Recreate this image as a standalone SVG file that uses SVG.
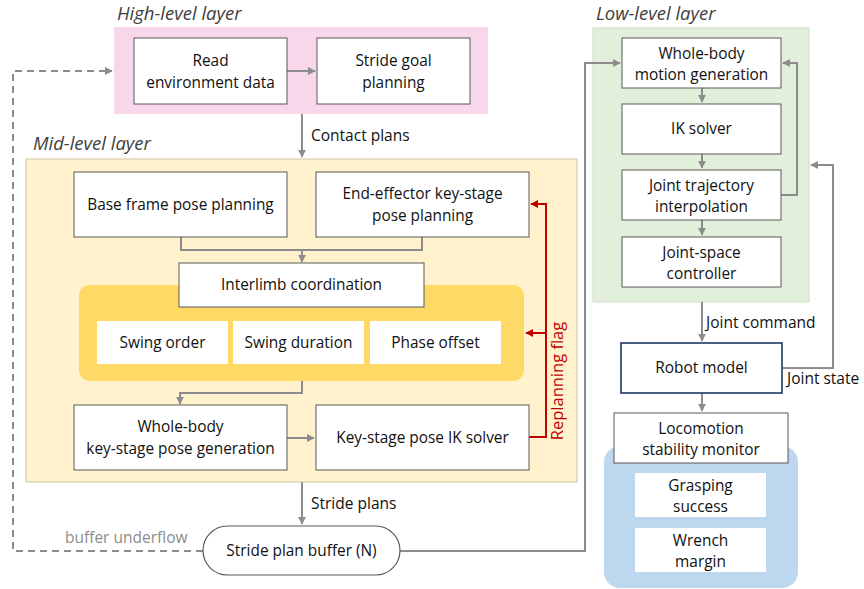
<svg xmlns="http://www.w3.org/2000/svg" width="864" height="589" viewBox="0 0 864 589">
  <defs>
    <marker id="ag" viewBox="0 0 10 10" refX="9" refY="5" markerWidth="4" markerHeight="4" orient="auto-start-reverse" markerUnits="strokeWidth">
      <path d="M0,0 L10,5 L0,10 z" fill="#8c8c8c"/>
    </marker>
    <marker id="ar" viewBox="0 0 10 10" refX="9" refY="5" markerWidth="4" markerHeight="4" orient="auto-start-reverse" markerUnits="strokeWidth">
      <path d="M0,0 L10,5 L0,10 z" fill="#c00000"/>
    </marker>
    <style>
      text { font-family: "Open Sans", "Noto Sans", sans-serif; font-size: 15.4px; fill: #111111; }
      .title { font-style: italic; font-size: 18.5px; fill: #404040; }
      .box { fill: #ffffff; stroke: #595959; stroke-width: 1; }
      .plain { fill: #ffffff; stroke: none; }
      .c { text-anchor: middle; }
      .conn { fill: none; stroke: #8c8c8c; stroke-width: 2; }
      .dash { fill: none; stroke: #8c8c8c; stroke-width: 2; stroke-dasharray: 7 5; }
      .red { fill: none; stroke: #c00000; stroke-width: 2; }
      .lbl { font-size: 15.5px; }
    </style>
  </defs>

  <!-- layer panels -->
  <g id="high-layer">
    <rect x="114" y="27" width="374" height="87" fill="#f8d7ea"/>
    <text class="title" x="117" y="20">High-level layer</text>
  </g>
  <g id="mid-layer">
    <rect x="26" y="159" width="551" height="323" fill="#fff2cc" stroke="#d0c4a4" stroke-width="1"/>
    <text class="title" x="33" y="150">Mid-level layer</text>
    <rect x="79" y="285" width="445" height="96" rx="11" fill="#ffd966"/>
  </g>
  <g id="low-layer">
    <rect x="593" y="28" width="216" height="274" fill="#e2efda" stroke="#cfdcc6" stroke-width="1"/>
    <text class="title" x="596" y="20">Low-level layer</text>
  </g>
  <g id="monitor-panel">
    <rect x="604" y="446" width="194" height="142" rx="16" fill="#bdd7ee"/>
  </g>

  <!-- connectors -->
  <g id="connectors">
    <path class="conn" d="M287,71 H315" marker-end="url(#ag)"/>
    <path class="conn" d="M302,114 V157" marker-end="url(#ag)"/>
    <path class="conn" d="M181,237 V250 H422 V237"/>
    <path class="conn" d="M302,250 V262" marker-end="url(#ag)"/>
    <path class="conn" d="M302,381 V393 H180 V404" marker-end="url(#ag)"/>
    <path class="conn" d="M287,438 H314" marker-end="url(#ag)"/>
    <path class="conn" d="M302,482 V524" marker-end="url(#ag)"/>
    <path class="dash" d="M203,551 H13 V71 H112" marker-end="url(#ag)"/>
    <path class="conn" d="M400,551 H585 V63 H620" marker-end="url(#ag)"/>
    <path class="conn" d="M702,88 V102" marker-end="url(#ag)"/>
    <path class="conn" d="M702,154 V168" marker-end="url(#ag)"/>
    <path class="conn" d="M702,220 V235" marker-end="url(#ag)"/>
    <path class="conn" d="M781,195 H797 V63 H783" marker-end="url(#ag)"/>
    <path class="conn" d="M702,302 V341" marker-end="url(#ag)"/>
    <path class="conn" d="M782,368 H833 V165 H811" marker-end="url(#ag)"/>
    <path class="conn" d="M702,393 V411" marker-end="url(#ag)"/>
    <path class="red" d="M529,437 H546 V204 H531" marker-end="url(#ar)"/>
    <path class="red" d="M546,333 H526" marker-end="url(#ar)"/>
    <text class="lbl" x="311" y="141">Contact plans</text>
    <text class="lbl" x="311" y="509">Stride plans</text>
    <text class="lbl" x="65" y="543" style="fill:#8c8c8c">buffer underflow</text>
    <text class="lbl" x="706" y="328">Joint command</text>
    <text class="lbl" x="787" y="384">Joint state</text>
    <text class="lbl c" transform="translate(563,381) rotate(-90)" style="fill:#c00000;font-size:16.5px">Replanning flag</text>
  </g>

  <!-- high-level nodes -->
  <g id="read-env">
    <rect class="box" x="134" y="38" width="153" height="66"/>
    <text class="c" x="210.5" y="66">Read</text>
    <text class="c" x="210.5" y="88">environment data</text>
  </g>
  <g id="stride-goal">
    <rect class="box" x="317" y="38" width="153" height="66"/>
    <text class="c" x="393.5" y="66">Stride goal</text>
    <text class="c" x="393.5" y="88">planning</text>
  </g>

  <!-- mid-level nodes -->
  <g id="base-frame">
    <rect class="box" x="74" y="172" width="213" height="65"/>
    <text class="c" x="180.5" y="210">Base frame pose planning</text>
  </g>
  <g id="end-effector">
    <rect class="box" x="316" y="172" width="213" height="65"/>
    <text class="c" x="422.5" y="199">End-effector key-stage</text>
    <text class="c" x="422.5" y="221">pose planning</text>
  </g>
  <g id="interlimb">
    <rect class="box" x="179" y="263" width="245" height="44"/>
    <text class="c" x="301.5" y="290">Interlimb coordination</text>
  </g>
  <g id="swing-order">
    <rect class="plain" x="97" y="321" width="131" height="43"/>
    <text class="c" x="162.5" y="348">Swing order</text>
  </g>
  <g id="swing-duration">
    <rect class="plain" x="233" y="321" width="131" height="43"/>
    <text class="c" x="298.5" y="348">Swing duration</text>
  </g>
  <g id="phase-offset">
    <rect class="plain" x="370" y="321" width="131" height="43"/>
    <text class="c" x="435.5" y="348">Phase offset</text>
  </g>
  <g id="whole-body-keystage">
    <rect class="box" x="74" y="405" width="213" height="65"/>
    <text class="c" x="180.5" y="432">Whole-body</text>
    <text class="c" x="180.5" y="454">key-stage pose generation</text>
  </g>
  <g id="keystage-ik">
    <rect class="box" x="316" y="405" width="213" height="65"/>
    <text class="c" x="422.5" y="443">Key-stage pose IK solver</text>
  </g>
  <g id="stride-buffer">
    <rect x="203" y="526" width="197" height="49" rx="24.5" fill="#ffffff" stroke="#595959" stroke-width="1.2"/>
    <text class="c" x="301.5" y="556">Stride plan buffer (N)</text>
  </g>

  <!-- low-level nodes -->
  <g id="whole-body-motion">
    <rect class="box" x="622" y="38" width="159" height="50"/>
    <text class="c" x="701.5" y="59">Whole-body</text>
    <text class="c" x="701.5" y="80">motion generation</text>
  </g>
  <g id="ik-solver">
    <rect class="box" x="622" y="104" width="159" height="50"/>
    <text class="c" x="701.5" y="134">IK solver</text>
  </g>
  <g id="joint-trajectory">
    <rect class="box" x="622" y="170" width="159" height="50"/>
    <text class="c" x="701.5" y="191">Joint trajectory</text>
    <text class="c" x="701.5" y="212">interpolation</text>
  </g>
  <g id="joint-controller">
    <rect class="box" x="622" y="237" width="159" height="50"/>
    <text class="c" x="701.5" y="258">Joint-space</text>
    <text class="c" x="701.5" y="279">controller</text>
  </g>
  <g id="robot-model">
    <rect x="621" y="343" width="161" height="50" fill="#ffffff" stroke="#1f3864" stroke-width="1.6"/>
    <text class="c" x="701.5" y="373">Robot model</text>
  </g>
  <g id="stability-monitor">
    <rect class="box" x="614" y="413" width="174" height="50"/>
    <text class="c" x="701" y="434">Locomotion</text>
    <text class="c" x="701" y="455">stability monitor</text>
  </g>
  <g id="grasping-success">
    <rect class="plain" x="635" y="473" width="131" height="44"/>
    <text class="c" x="700.5" y="491">Grasping</text>
    <text class="c" x="700.5" y="512">success</text>
  </g>
  <g id="wrench-margin">
    <rect class="plain" x="635" y="528" width="131" height="44"/>
    <text class="c" x="700.5" y="546">Wrench</text>
    <text class="c" x="700.5" y="567">margin</text>
  </g>
</svg>
